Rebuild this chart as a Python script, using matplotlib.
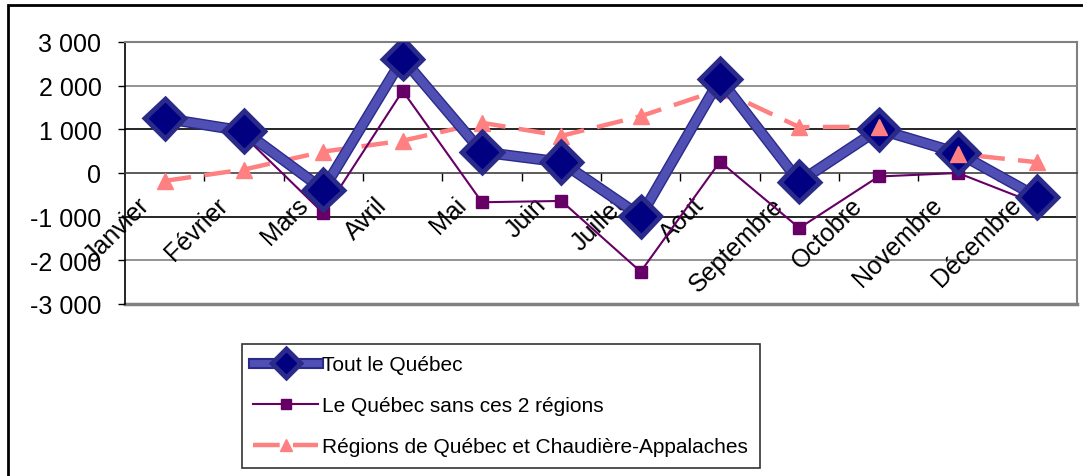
import matplotlib
matplotlib.use("Agg")
import matplotlib.pyplot as plt
import matplotlib.patheffects as pe
import matplotlib.transforms as mtrans
from matplotlib.patches import Rectangle
import numpy as np

plt.rcParams['font.family'] = ['Liberation Sans', 'DejaVu Sans']

months = ["Janvier", "Février", "Mars", "Avril", "Mai", "Juin", "Juillet",
          "Aout", "Septembre", "Octobre", "Novembre", "Décembre"]
tout_quebec = [1250, 960, -380, 2620, 480, 250, -990, 2150, -200, 1000, 460, -550]
sans_regions = [1370, 850, -920, 1880, -670, -640, -2260, 260, -1260, -80, 0, -710]
regions_qc_ca = [-180, 80, 490, 740, 1150, 850, 1300, 1910, 1050, 1060, 440, 245]
yticks = [-3000, -2000, -1000, 0, 1000, 2000, 3000]
ytick_labels = ["-3 000", "-2 000", "-1 000", "0", "1 000", "2 000", "3 000"]
series_names = ["Tout le Québec", "Le Québec sans ces 2 régions",
                "Régions de Québec et Chaudière-Appalaches"]

fig = plt.figure(figsize=(10.83, 4.77), dpi=100)
fig.patch.set_facecolor("white")
# outer border
fig.add_artist(Rectangle((8/1083, -0.1), 1.2, 1 - 6/477 + 0.1, transform=fig.transFigure,
                         fill=False, edgecolor="black", linewidth=2))

ax = fig.add_axes([125/1083, 1 - 305/477, (1077 - 125)/1083, (305 - 43)/477])
x = np.arange(len(months))
ax.set_xlim(-0.5, len(months) - 0.5)
ax.set_ylim(-3000, 3000)

# gridlines
for v in yticks:
    if v in (3000, -3000, 0):
        continue
    col = "black" if abs(v) == 1000 else "#808080"
    ax.axhline(v, color=col, linewidth=1.2, zorder=1)

# spines
for s in ("top", "right"):
    ax.spines[s].set_color("#808080")
    ax.spines[s].set_linewidth(1.5)
ax.spines["left"].set_color("black")
ax.spines["left"].set_linewidth(1.2)
ax.spines["bottom"].set_position(("data", 0))
ax.spines["bottom"].set_color("#404040")
ax.spines["bottom"].set_linewidth(1.2)
ax.axhline(-3000, color="#808080", linewidth=2.5, zorder=1, clip_on=False)

# ticks
ax.set_yticks(yticks)
ax.set_yticklabels(ytick_labels, fontsize=18)
ax.tick_params(axis="y", direction="out", length=5, width=1, pad=12)
ax.set_xticks(x)
ax.set_xticklabels(months, fontsize=18, rotation=45, ha="right", va="top",
                   rotation_mode="anchor")
ax.tick_params(axis="x", which="major", length=0, pad=14)
ax.set_xticks(np.arange(0.5, len(months) - 0.5, 1), minor=True)
ax.tick_params(axis="x", which="minor", direction="out", length=6, width=1, color="black")
offset = mtrans.ScaledTranslation(-0.28, 0, fig.dpi_scale_trans)
for lbl in ax.get_xticklabels():
    lbl.set_transform(lbl.get_transform() + offset)

# series
l3, = ax.plot(x, regions_qc_ca, color="#ff8080", linewidth=3.2, linestyle=(0, (6, 3)),
              marker="^", markersize=12, markerfacecolor="#ff8080",
              markeredgecolor="#ff8080", zorder=3)
l2, = ax.plot(x, sans_regions, color="#660066", linewidth=1.5,
              marker="s", markersize=8, markerfacecolor="#660066",
              markeredgecolor="#660066", zorder=4)
l1, = ax.plot(x, tout_quebec, color="#5050b4", linewidth=6,
              marker="D", markersize=16, markerfacecolor="#000080",
              markeredgecolor="#000080", zorder=5,
              path_effects=[pe.Stroke(linewidth=8, foreground="#2a2a8a"), pe.Normal()])
# triangles drawn above diamonds where overlapping (Octobre, Novembre)
ax.plot(x[9:11], regions_qc_ca[9:11], linestyle="none", marker="^", markersize=12,
        color="#ff8080", zorder=6)

leg = fig.legend([l1, l2, l3], series_names, loc="upper left",
                 bbox_to_anchor=(242/1083, 1 - 345/477), bbox_transform=fig.transFigure,
                 fontsize=15, frameon=True, fancybox=False, edgecolor="black",
                 handlelength=3.1, handletextpad=0.2, borderpad=0.55, labelspacing=1.05,
                 borderaxespad=0)
leg.get_frame().set_linewidth(1.2)
hs = leg.legend_handles
hs[0].set_markersize(10)
hs[0].set_linewidth(5)
hs[1].set_markersize(7)
hs[2].set_markersize(9)

fig.savefig("out.png", dpi=100, facecolor="white")
